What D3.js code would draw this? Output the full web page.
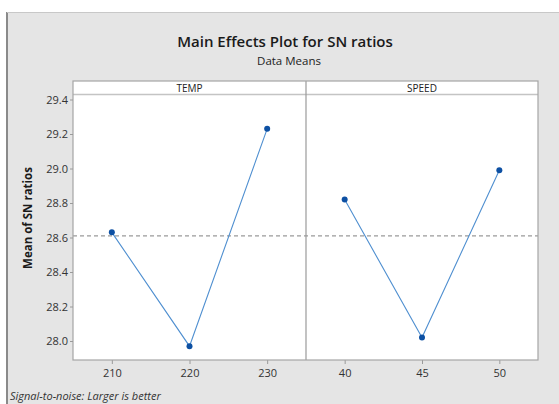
<!DOCTYPE html>
<html>
<head>
<meta charset="utf-8">
<script src="https://cdn.jsdelivr.net/npm/d3@7"></script>
<style>
  html, body { margin: 0; padding: 0; background: #ffffff; }
  svg { display: block; font-family: "Open Sans", "Noto Sans", sans-serif; }
</style>
</head>
<body>
<svg id="chart" width="559" height="404"></svg>
<script>
// Factors and their levels
const factors = ["TEMP", "SPEED"];
const tempLevels = ["210", "220", "230"];
const speedLevels = ["40", "45", "50"];

// Mean S/N ratio at each factor level
const tempMeans = [28.63, 27.97, 29.23];
const speedMeans = [28.82, 28.02, 28.99];

// Y-axis ticks
const yTicks = [28.0, 28.2, 28.4, 28.6, 28.8, 29.0, 29.2, 29.4];

const titleText = "Main Effects Plot for SN ratios";
const subtitleText = "Data Means";
const yLabel = "Mean of SN ratios";
const footnote = "Signal-to-noise: Larger is better";

const svg = d3.select("#chart");
const W = 559, H = 404;

// Graph window background and frame
svg.append("rect").attr("x", 7).attr("y", 12).attr("width", W - 7).attr("height", H - 12)
  .attr("fill", "#e5e5e5");
svg.append("line").attr("x1", 7).attr("x2", 7).attr("y1", 12).attr("y2", H)
  .attr("stroke", "#8a8a8a").attr("stroke-width", 2);
svg.append("line").attr("x1", 7).attr("x2", W).attr("y1", 12.5).attr("y2", 12.5)
  .attr("stroke", "#c8c8c8").attr("stroke-width", 1);

// Titles
svg.append("text").attr("x", 285).attr("y", 47).attr("text-anchor", "middle")
  .attr("font-size", 15).attr("font-weight", 600).attr("fill", "#1a1a1a")
  .text(titleText);
svg.append("text").attr("x", 289).attr("y", 65).attr("text-anchor", "middle")
  .attr("font-size", 11.5).attr("fill", "#222")
  .text(subtitleText);

// Panel geometry
const plotL = 73, plotR = 538, plotT = 81, stripB = 94.5, plotB = 360;
const divX = 306;
const panels = [
  { name: factors[0], levels: tempLevels, means: tempMeans, x0: plotL, x1: divX },
  { name: factors[1], levels: speedLevels, means: speedMeans, x0: divX, x1: plotR }
];

const y = d3.scaleLinear().domain([28.0, 29.4]).range([341, 99.5]);

// Overall mean of all responses
const grandMean = d3.mean(tempMeans.concat(speedMeans));

// Plot area background
svg.append("rect").attr("x", plotL).attr("y", plotT).attr("width", plotR - plotL)
  .attr("height", plotB - plotT).attr("fill", "#ffffff");

// Reference line at the overall mean
svg.append("line").attr("x1", plotL).attr("x2", plotR)
  .attr("y1", y(grandMean)).attr("y2", y(grandMean))
  .attr("stroke", "#9a9a9a").attr("stroke-width", 1.2).attr("stroke-dasharray", "4,3");

panels.forEach(p => {
  const x = d3.scalePoint().domain(p.levels).range([p.x0, p.x1]).padding(0.5);
  const pts = p.levels.map((lv, i) => [x(lv), y(p.means[i])]);

  svg.append("path").attr("d", d3.line()(pts))
    .attr("fill", "none").attr("stroke", "#4f8fd0").attr("stroke-width", 1.1);

  svg.selectAll(null).data(pts).enter().append("circle")
    .attr("cx", d => d[0]).attr("cy", d => d[1]).attr("r", 3)
    .attr("fill", "#0d50a3");

  // Strip label
  svg.append("text").attr("x", (p.x0 + p.x1) / 2).attr("y", 91.5)
    .attr("text-anchor", "middle").attr("font-size", 10).attr("fill", "#222")
    .text(p.name);

  // X axis below panel
  const ax = svg.append("g").attr("transform", `translate(0,${plotB})`)
    .call(d3.axisBottom(x).tickSize(4).tickPadding(5));
  ax.select(".domain").remove();
  ax.selectAll(".tick line").attr("stroke", "#9a9a9a");
  ax.selectAll(".tick text").attr("font-size", 11).attr("fill", "#333")
    .attr("font-family", "\"Open Sans\", sans-serif");
});

// Strip and panel borders
svg.append("line").attr("x1", plotL).attr("x2", plotR).attr("y1", stripB).attr("y2", stripB)
  .attr("stroke", "#c4c4c4").attr("stroke-width", 1.5);
svg.append("line").attr("x1", divX).attr("x2", divX).attr("y1", plotT).attr("y2", plotB)
  .attr("stroke", "#9a9a9a").attr("stroke-width", 1.2);
svg.append("rect").attr("x", plotL).attr("y", plotT).attr("width", plotR - plotL)
  .attr("height", plotB - plotT).attr("fill", "none")
  .attr("stroke", "#a5a5a5").attr("stroke-width", 1.2);

// Y axis
const ay = svg.append("g").attr("transform", `translate(${plotL},0)`)
  .call(d3.axisLeft(y).tickValues(yTicks).tickFormat(d3.format(".1f")).tickSize(3).tickPadding(2));
ay.select(".domain").remove();
ay.selectAll(".tick line").attr("stroke", "#9a9a9a");
ay.selectAll(".tick text").attr("font-size", 11).attr("fill", "#333")
  .attr("font-family", "\"Open Sans\", sans-serif");

svg.append("text").attr("transform", "translate(32,218) rotate(-90)")
  .attr("text-anchor", "middle").attr("font-size", 11.5).attr("font-weight", 700)
  .attr("fill", "#1a1a1a").text(yLabel);

// Footnote
svg.append("text").attr("x", 10).attr("y", 400).attr("font-size", 11)
  .attr("font-style", "italic").attr("fill", "#333").text(footnote);
</script>
</body>
</html>
